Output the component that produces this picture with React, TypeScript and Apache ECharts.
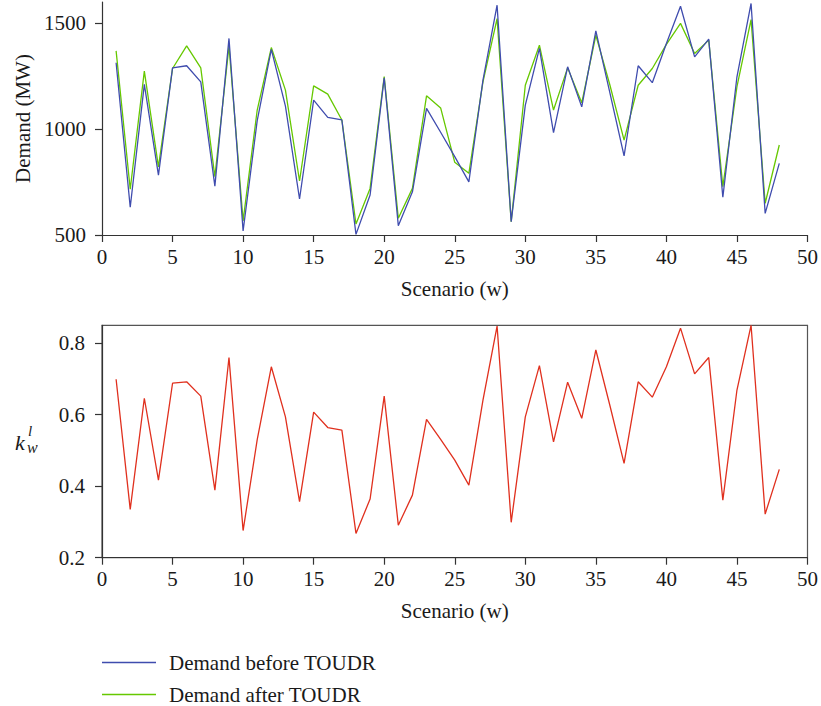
import React, { useEffect, useRef } from "react";
import * as echarts from "echarts";

const scenarios = [
  1, 2, 3, 4, 5, 6, 7, 8, 9, 10, 11, 12, 13, 14, 15, 16, 17, 18, 19, 20, 21, 22, 23, 24,
  25, 26, 27, 28, 29, 30, 31, 32, 33, 34, 35, 36, 37, 38, 39, 40, 41, 42, 43, 44, 45, 46, 47, 48,
];

const demandBefore = [
  1313, 631, 1211, 783, 1289, 1299, 1223, 731, 1428, 519,
  1040, 1376, 1108, 670, 1137, 1055, 1043, 503, 689, 1242,
  544, 704, 1098, 985, 870, 751, 1231, 1585, 563, 1113,
  1381, 983, 1294, 1105, 1464, 1170, 874, 1299, 1219, 1404,
  1580, 1341, 1425, 678, 1247, 1593, 602, 838,
];

const demandAfter = [
  1369, 716, 1274, 822, 1286, 1393, 1289, 775, 1392, 567,
  1090, 1385, 1184, 755, 1204, 1165, 1043, 552, 720, 1248,
  579, 720, 1157, 1100, 843, 791, 1223, 1522, 563, 1207,
  1396, 1090, 1289, 1124, 1443, 1207, 948, 1207, 1286, 1400,
  1499, 1357, 1420, 728, 1200, 1517, 650, 925,
];

const kValues = [
  0.699, 0.335, 0.646, 0.417, 0.688, 0.692, 0.652, 0.389, 0.76, 0.276,
  0.53, 0.734, 0.594, 0.357, 0.607, 0.564, 0.557, 0.268, 0.364, 0.652,
  0.291, 0.375, 0.587, 0.531, 0.473, 0.403, 0.641, 0.848, 0.299, 0.594,
  0.737, 0.524, 0.691, 0.59, 0.781, 0.625, 0.464, 0.692, 0.649, 0.734,
  0.842, 0.714, 0.76, 0.361, 0.669, 0.85, 0.322, 0.447,
];

const demandTicks = [500, 1000, 1500];
const kTicks = [0.2, 0.4, 0.6, 0.8];

const FONT = "'Liberation Serif', 'DejaVu Serif', serif";
const FS = 21;
const AXIS_COLOR = "#333333";
const TEXT_COLOR = "#1a1a1a";
const BLUE = "#3f4cae";
const GREEN = "#66c800";
const RED = "#e0301e";

const pairs = (vals: number[]) => vals.map((v, i) => [scenarios[i], v]);

export default function App() {
  const ref = useRef<HTMLDivElement>(null);

  useEffect(() => {
    if (!ref.current) return;
    const chart = echarts.init(ref.current, undefined, { renderer: "svg" });

    const xAxisBase = (gridIndex: number) => ({
      type: "value" as const,
      gridIndex,
      min: 0,
      max: 50,
      interval: 5,
      name: "Scenario (w)",
      nameLocation: "middle" as const,
      nameGap: 43,
      nameTextStyle: { fontFamily: FONT, fontSize: FS, color: TEXT_COLOR },
      axisLine: { show: true, onZero: false, lineStyle: { color: AXIS_COLOR, width: 1.2 } },
      axisTick: { show: true, length: 7, lineStyle: { color: AXIS_COLOR, width: 1.2 } },
      axisLabel: { fontFamily: FONT, fontSize: FS, color: TEXT_COLOR, margin: 11 },
      splitLine: { show: false },
    });

    const option: any = {
      animation: false,
      backgroundColor: "#ffffff",
      grid: [
        { left: 102, right: 11, top: 2, height: 233, containLabel: false },
        {
          left: 102,
          right: 11,
          top: 325.3,
          height: 232.4,
          show: true,
          borderColor: "#555555",
          borderWidth: 1.2,
          backgroundColor: "transparent",
        },
      ],
      xAxis: [xAxisBase(0), xAxisBase(1)],
      yAxis: [
        {
          type: "value",
          gridIndex: 0,
          min: 500,
          max: 1600,
          name: "Demand (MW)",
          nameLocation: "middle",
          nameGap: 68,
          nameTextStyle: { fontFamily: FONT, fontSize: FS, color: TEXT_COLOR },
          axisLine: { show: true, onZero: false, lineStyle: { color: AXIS_COLOR, width: 1.2 } },
          axisTick: {
            show: true,
            length: 7,
            customValues: demandTicks,
            lineStyle: { color: AXIS_COLOR, width: 1.2 },
          },
          axisLabel: {
            fontFamily: FONT,
            fontSize: FS,
            color: TEXT_COLOR,
            margin: 16,
            customValues: demandTicks,
            formatter: (v: number) => String(v),
          },
          splitLine: { show: false },
        },
        {
          type: "value",
          gridIndex: 1,
          min: 0.2,
          max: 0.85,
          axisLine: { show: true, onZero: false, lineStyle: { color: AXIS_COLOR, width: 1.2 } },
          axisTick: {
            show: true,
            length: 7,
            customValues: kTicks,
            lineStyle: { color: AXIS_COLOR, width: 1.2 },
          },
          axisLabel: {
            fontFamily: FONT,
            fontSize: FS,
            color: TEXT_COLOR,
            margin: 17,
            customValues: kTicks,
            formatter: (v: number) => v.toFixed(1),
          },
          splitLine: { show: false },
        },
      ],
      legend: {
        orient: "vertical",
        left: 102,
        top: 652,
        padding: 0,
        icon: "rect",
        itemWidth: 54,
        itemHeight: 1.5,
        itemGap: 11,
        data: ["Demand before TOUDR", "Demand after TOUDR"],
        textStyle: { fontFamily: FONT, fontSize: FS, color: TEXT_COLOR, padding: [0, 0, 0, 8] },
      },
      graphic: [
        {
          type: "text",
          left: 15,
          top: 431,
          style: { text: "k", font: `italic 22px ${FONT}`, fill: TEXT_COLOR },
        },
        {
          type: "text",
          left: 28,
          top: 423,
          style: { text: "l", font: `italic 15px ${FONT}`, fill: TEXT_COLOR },
        },
        {
          type: "text",
          left: 27,
          top: 439,
          style: { text: "w", font: `italic 16px ${FONT}`, fill: TEXT_COLOR },
        },
      ],
      series: [
        {
          name: "Demand before TOUDR",
          type: "line",
          xAxisIndex: 0,
          yAxisIndex: 0,
          data: pairs(demandBefore),
          symbol: "none",
          lineStyle: { color: BLUE, width: 1.3 },
          itemStyle: { color: BLUE },
          z: 3,
        },
        {
          name: "Demand after TOUDR",
          type: "line",
          xAxisIndex: 0,
          yAxisIndex: 0,
          data: pairs(demandAfter),
          symbol: "none",
          lineStyle: { color: GREEN, width: 1.3 },
          itemStyle: { color: GREEN },
          z: 2,
        },
        {
          name: "k",
          type: "line",
          xAxisIndex: 1,
          yAxisIndex: 1,
          data: pairs(kValues),
          symbol: "none",
          clip: false,
          lineStyle: { color: RED, width: 1.3 },
          itemStyle: { color: RED },
        },
      ],
    };

    chart.setOption(option);
    return () => chart.dispose();
  }, []);

  return (
    <div
      ref={ref}
      style={{ position: "fixed", left: 0, top: 0, width: 821, height: 706, background: "#fff" }}
    />
  );
}
